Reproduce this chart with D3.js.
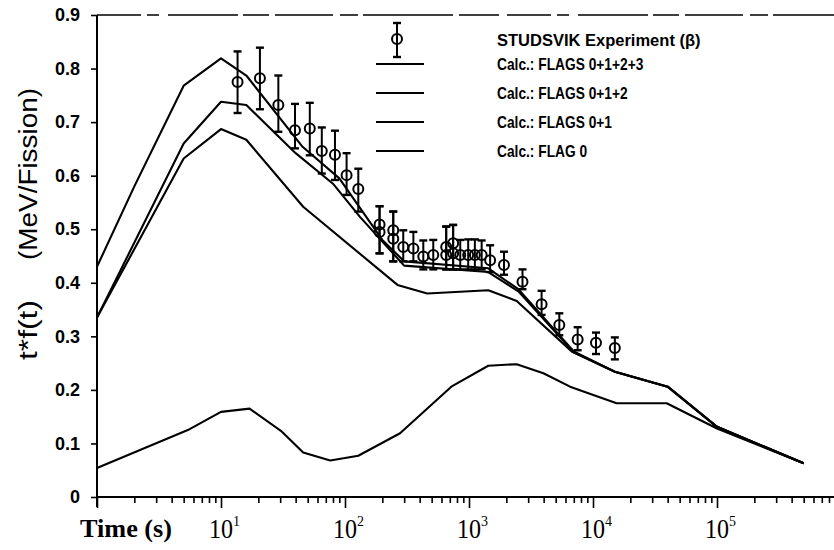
<!DOCTYPE html>
<html><head><meta charset="utf-8">
<script src="https://cdn.jsdelivr.net/npm/d3@7"></script>
<style>body{margin:0;background:#fff} svg{display:block}</style>
</head><body><svg id="c" width="834" height="550"></svg>
<script>
// ---- data ----
const calcA_t = [1, 2, 5, 10, 16, 45, 90, 200, 300, 1430, 2500, 7000, 15000, 40000, 100000, 500000];
const calcA_v = [0.43, 0.58, 0.768, 0.819, 0.787, 0.655, 0.595, 0.48, 0.44, 0.427, 0.388, 0.272, 0.234, 0.206, 0.131, 0.063];
const calcB_t = [1, 5, 10, 16, 40, 80, 132, 300, 1430, 2500, 7000, 15000, 40000, 100000, 500000];
const calcB_v = [0.335, 0.66, 0.738, 0.732, 0.642, 0.585, 0.523, 0.432, 0.42, 0.384, 0.27, 0.234, 0.206, 0.131, 0.063];
const calcC_t = [1, 5, 10, 16, 46, 265, 460, 1430, 2425, 6800, 15000, 40000, 100000, 500000];
const calcC_v = [0.335, 0.632, 0.687, 0.667, 0.542, 0.396, 0.38, 0.386, 0.366, 0.271, 0.234, 0.206, 0.131, 0.063];
const calcD_t = [1, 5.4, 10, 17, 31, 46, 76, 128, 278, 720, 1430, 2425, 3980, 6530, 15500, 39300, 100000, 500000];
const calcD_v = [0.054, 0.125, 0.159, 0.165, 0.122, 0.083, 0.068, 0.077, 0.119, 0.206, 0.245, 0.248, 0.231, 0.206, 0.175, 0.175, 0.128, 0.063];

const expTime  = [13.6, 20.6, 29, 39.5, 52, 65, 83, 103, 128, 190, 190, 245, 245, 295, 356, 428, 515, 655, 655, 745, 745, 850, 985, 1115, 1265, 1480, 1915, 2700, 3850, 5350, 7520, 10570, 15000];
const expValue = [0.775, 0.782, 0.732, 0.685, 0.688, 0.646, 0.639, 0.601, 0.575, 0.509, 0.495, 0.498, 0.482, 0.467, 0.464, 0.449, 0.452, 0.467, 0.452, 0.474, 0.455, 0.452, 0.452, 0.452, 0.452, 0.442, 0.433, 0.402, 0.36, 0.321, 0.294, 0.288, 0.278];
const expLow   = [0.717, 0.724, 0.682, 0.651, 0.638, 0.604, 0.592, 0.564, 0.533, 0.455, 0.455, 0.44, 0.44, 0.44, 0.44, 0.425, 0.425, 0.425, 0.425, 0.425, 0.425, 0.425, 0.425, 0.425, 0.425, 0.42, 0.415, 0.388, 0.34, 0.302, 0.274, 0.267, 0.257];
const expHigh  = [0.832, 0.839, 0.787, 0.734, 0.736, 0.69, 0.684, 0.642, 0.613, 0.543, 0.543, 0.533, 0.533, 0.498, 0.495, 0.479, 0.48, 0.505, 0.505, 0.508, 0.508, 0.48, 0.481, 0.481, 0.479, 0.47, 0.458, 0.425, 0.385, 0.343, 0.317, 0.307, 0.298];

const yTicks = [0, 0.1, 0.2, 0.3, 0.4, 0.5, 0.6, 0.7, 0.8, 0.9];
const yTickLabels = ["0", "0.1", "0.2", "0.3", "0.4", "0.5", "0.6", "0.7", "0.8", "0.9"];
const xDecadeExp = [1, 2, 3, 4, 5];
const legendExp = "STUDSVIK Experiment (\u03B2)";
const legendCalc = ["Calc.: FLAGS 0+1+2+3", "Calc.: FLAGS 0+1+2", "Calc.: FLAGS 0+1", "Calc.: FLAG 0"];

// ---- layout ----
const L = 97, R = 834, T = 15, B = 497, decade = 124;
const svg = d3.select("#c");
const x = d3.scaleLog().domain([1, Math.pow(10, (R - L) / decade)]).range([L, R]);
const y = d3.scaleLinear().domain([0, 0.9]).range([B, T]);

// top border (broken, as scanned)
svg.append("line").attr("x1", L).attr("x2", R).attr("y1", T).attr("y2", T)
  .attr("stroke", "#000").attr("stroke-width", 1.6)
  .attr("stroke-dasharray", "44,6,12,9,70,5,26,6,58,7,18,5,90,6,40,8");

// x axis: minor and major ticks
const minor = [], major = [];
for (let k = 0; k <= 5; k++) {
  for (let m = 1; m <= 9; m++) {
    const v = m * Math.pow(10, k);
    if (v > x.domain()[1]) continue;
    if (m === 1) major.push(v); else minor.push(v);
  }
}
const gx1 = svg.append("g").attr("transform", `translate(0,${B})`)
  .call(d3.axisBottom(x).tickValues(minor).tickSize(6).tickFormat(""));
const gx2 = svg.append("g").attr("transform", `translate(0,${B})`)
  .call(d3.axisBottom(x).tickValues(major).tickSize(11).tickFormat(""));
[gx1, gx2].forEach(g => {
  g.select(".domain").remove();
  g.selectAll("line").attr("stroke", "#000").attr("stroke-width", 1.6);
});
svg.append("line").attr("x1", L).attr("x2", R).attr("y1", B).attr("y2", B)
  .attr("stroke", "#000").attr("stroke-width", 2);

// x tick labels 10^n
xDecadeExp.forEach(n => {
  const px = x(Math.pow(10, n));
  const g = svg.append("g").attr("transform", `translate(${px},538) scale(0.86,1)`);
  g.append("text").attr("text-anchor", "middle").attr("font-family", "Liberation Serif")
    .attr("font-size", 28).text("10");
  svg.append("text").attr("x", px + 12).attr("y", 526).attr("font-family", "Liberation Serif")
    .attr("font-size", 14).text(n);
});
svg.append("text").attr("x", 80).attr("y", 537).attr("font-family", "Liberation Serif")
  .attr("font-weight", "bold").attr("font-size", 26).attr("textLength", 92)
  .attr("lengthAdjust", "spacingAndGlyphs").text("Time (s)");

// y axis
const gy = svg.append("g").attr("transform", `translate(${L},0)`)
  .call(d3.axisLeft(y).tickValues(yTicks).tickSize(6).tickPadding(11)
    .tickFormat((d, i) => yTickLabels[i]));
gy.select(".domain").remove();
gy.selectAll("line").attr("stroke", "#000").attr("stroke-width", 1.6);
gy.selectAll("text").attr("font-family", "Liberation Sans").attr("font-weight", "bold")
  .attr("font-size", 18).attr("fill", "#000");
svg.append("line").attr("x1", L).attr("x2", L).attr("y1", T).attr("y2", B + 10)
  .attr("stroke", "#000").attr("stroke-width", 2);

// y axis title
svg.append("text").attr("transform", "translate(37,174) rotate(-90)").attr("text-anchor", "middle")
  .attr("font-family", "Liberation Sans").attr("font-size", 26).attr("textLength", 172)
  .attr("lengthAdjust", "spacingAndGlyphs").text("(MeV/Fission)");
svg.append("text").attr("transform", "translate(37,330) rotate(-90)").attr("text-anchor", "middle")
  .attr("font-family", "Liberation Sans").attr("font-size", 26).attr("textLength", 60)
  .attr("lengthAdjust", "spacingAndGlyphs").text("t*f(t)");

// calc curves
const line = d3.line().x(d => x(d[0])).y(d => y(d[1]));
[[calcA_t, calcA_v], [calcB_t, calcB_v], [calcC_t, calcC_v], [calcD_t, calcD_v]].forEach(([ts, vs]) => {
  svg.append("path").attr("d", line(ts.map((t, i) => [t, vs[i]])))
    .attr("fill", "none").attr("stroke", "#000").attr("stroke-width", 2.1).attr("stroke-linejoin", "round");
});

// experiment markers
function marker(px, py, pl, ph) {
  const g = svg.append("g");
  g.append("line").attr("x1", px).attr("x2", px).attr("y1", ph).attr("y2", pl)
    .attr("stroke", "#000").attr("stroke-width", 2);
  [ph, pl].forEach(yy => g.append("line").attr("x1", px - 4).attr("x2", px + 4)
    .attr("y1", yy).attr("y2", yy).attr("stroke", "#000").attr("stroke-width", 2.4));
  g.append("circle").attr("cx", px).attr("cy", py).attr("r", 5)
    .attr("fill", "none").attr("stroke", "#000").attr("stroke-width", 2);
}
expTime.forEach((t, i) => marker(x(t), y(expValue[i]), y(expLow[i]), y(expHigh[i])));

// legend
marker(397, 39, 57, 23);
svg.append("text").attr("x", 497).attr("y", 46).attr("font-family", "Liberation Sans")
  .attr("font-weight", "bold").attr("font-size", 16.5).text(legendExp);
legendCalc.forEach((s, i) => {
  const ly = 64 + i * 29;
  svg.append("line").attr("x1", 376).attr("x2", 424).attr("y1", ly).attr("y2", ly)
    .attr("stroke", "#000").attr("stroke-width", 2);
  svg.append("text").attr("transform", `translate(497,${ly + 6}) scale(0.86,1)`)
    .attr("font-family", "Liberation Sans")
    .attr("font-weight", "bold").attr("font-size", 16).text(s);
});
</script></body></html>
